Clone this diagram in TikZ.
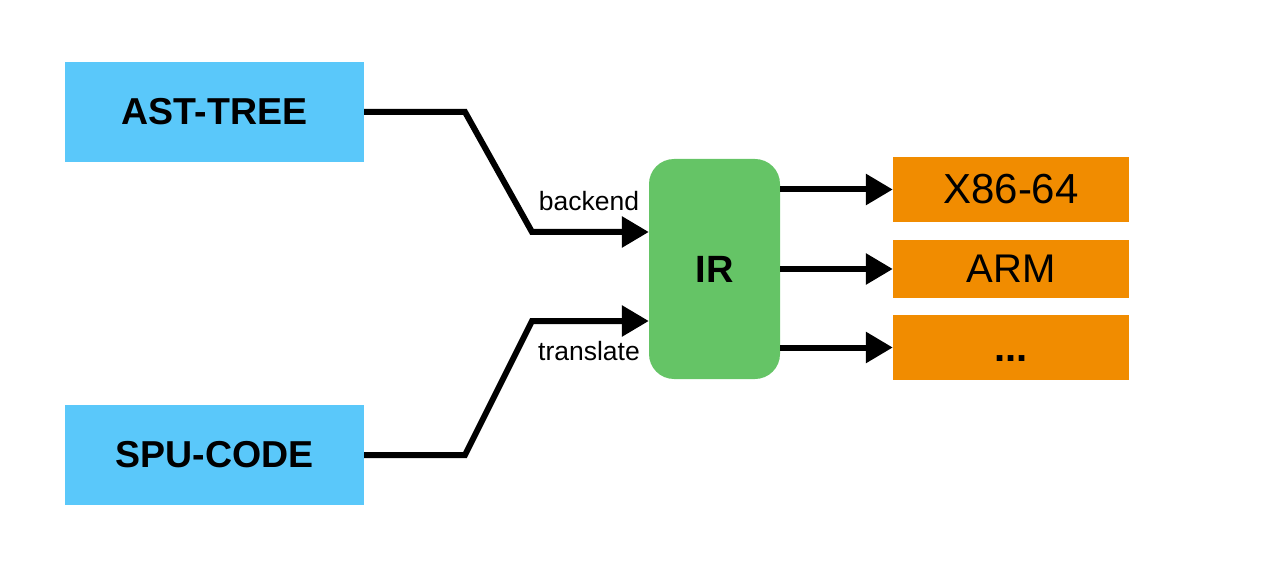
\documentclass[tikz,border=0pt]{standalone}
\usepackage{fontspec}
\setmainfont{Liberation Sans}
\usetikzlibrary{arrows.meta}
\definecolor{cblue}{HTML}{5AC8FA}
\definecolor{cgreen}{HTML}{65C466}
\definecolor{corange}{HTML}{F18C00}
\tikzset{
  src/.style={fill=cblue, minimum width=299pt, minimum height=100pt, inner sep=0pt, font=\fontsize{37.5}{40}\selectfont\bfseries},
  tgt/.style={fill=corange, minimum width=236pt, inner sep=0pt, font=\fontsize{40}{40}\selectfont},
  irbox/.style={fill=cgreen, rounded corners=25pt, minimum width=131pt, minimum height=220pt, inner sep=0pt, font=\fontsize{38}{38}\selectfont\bfseries},
  conn/.style={line width=6pt, -{Triangle[length=27pt,width=30pt]}},
  lbl/.style={font=\fontsize{26.5}{28}\selectfont, inner sep=0pt}
}
\begin{document}
\begin{tikzpicture}[x=1pt,y=-1pt]
\useasboundingbox (0,0) rectangle (1280,564);
\node[src] (ast) at (214.5,112) {AST-TREE};
\node[src] (spu) at (214.5,455) {SPU-CODE};
\node[irbox] (ir) at (714.5,269) {IR};
\node[tgt, minimum height=65pt] (x86) at (1011,189.5) {\fontsize{42}{42}\selectfont X86-64};
\node[tgt, minimum height=58pt] (arm) at (1011,269) {ARM};
\node[tgt, minimum height=65pt] (dots) at (1011,347.5) {\bfseries\vphantom{X}...};
\coordinate (a1) at (465,112);
\coordinate (a2) at (532,232);
\coordinate (b1) at (465,455);
\coordinate (b2) at (532,321);
\draw[conn, line join=miter] (ast.east) -- (a1) -- (a2) -- (ir.west |- a2);
\draw[conn, line join=miter] (spu.east) -- (b1) -- (b2) -- (ir.west |- b2);
\draw[conn] (ir.east |- x86) -- (x86.west);
\draw[conn] (ir.east |- arm) -- (arm.west);
\draw[conn] (ir.east |- dots) -- (dots.west);
\node[lbl] (lb) at (589,201) {backend};
\node[lbl] (lt) at (589,351) {translate};
\end{tikzpicture}
\end{document}
